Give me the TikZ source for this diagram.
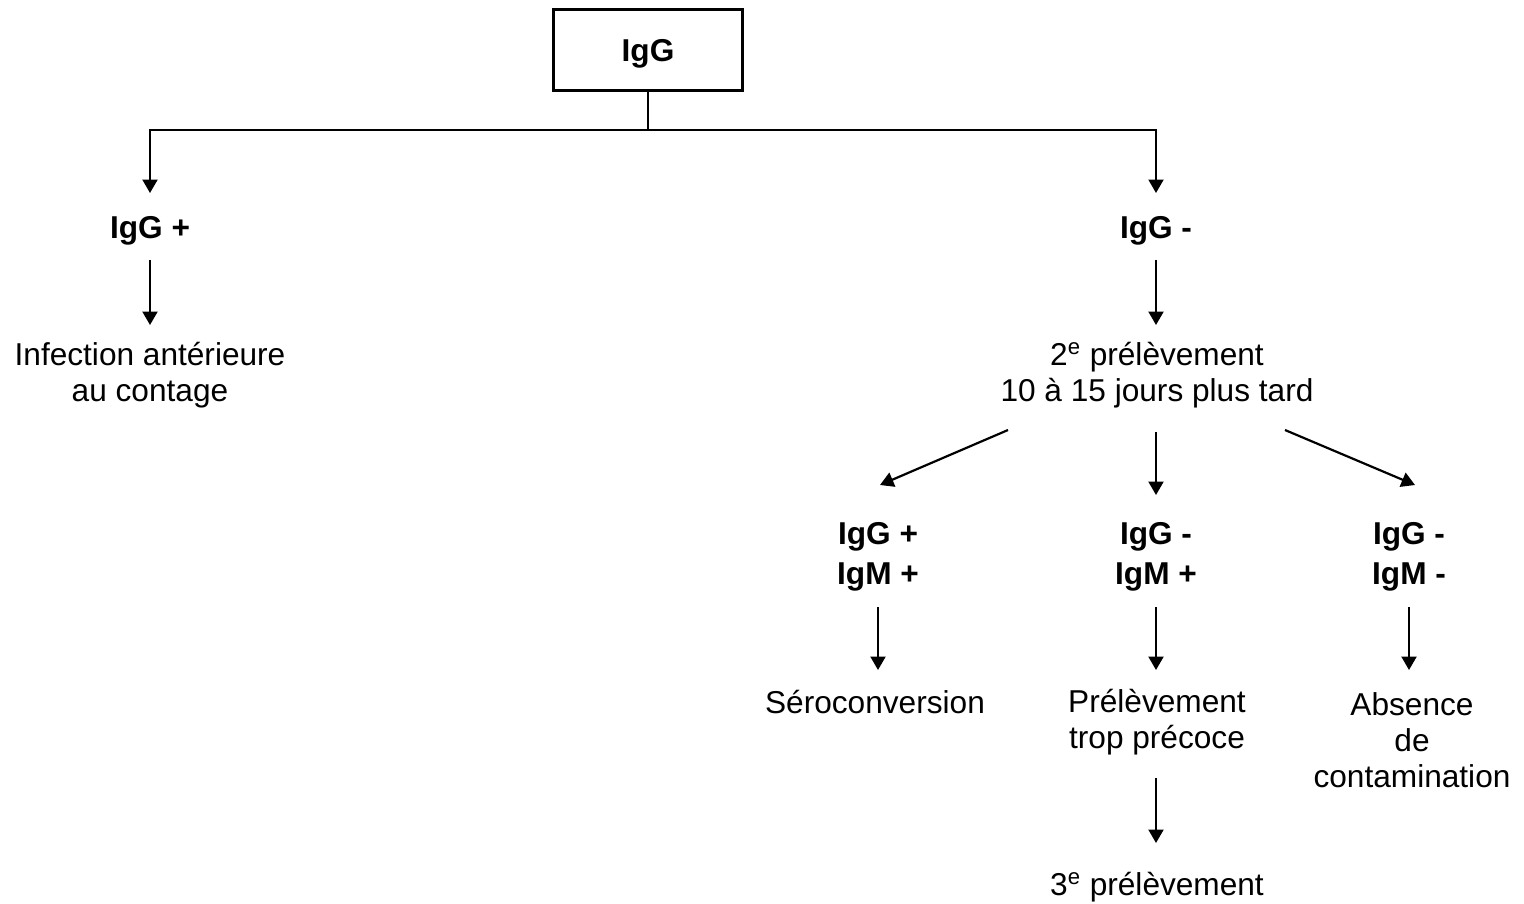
\documentclass[tikz,border=0pt]{standalone}
\usepackage{fontspec}
\setmainfont{Liberation Sans}
\usetikzlibrary{arrows.meta,calc}
\begin{document}
\begin{tikzpicture}[x=0.02cm,y=-0.02cm,
    lbl/.style={font=\fontsize{18}{20.5}\selectfont, align=center, inner sep=0pt},
    res/.style={font=\fontsize{18}{22.7}\selectfont\bfseries, align=center, inner sep=0pt},
    arr/.style={-{Triangle[width=0.3cm,length=0.27cm]}, line width=1.25pt}]
  \useasboundingbox (0,0) rectangle (1524,903);
  \node[draw, line width=1.4pt, minimum width=3.78cm, minimum height=1.62cm, text depth=0pt,
        font=\fontsize{18}{20.5}\selectfont\bfseries] (top) at (648,50) {IgG};
  \coordinate (split) at (648,130);
  \node[res] (igp) at (150,231) {IgG +};
  \node[res] (igm) at (1156,231) {IgG -};
  \node[lbl] (inf) at (150,375) {Infection antérieure\\au contage};
  \node[lbl] (deux) at (1157,375) {2\textsuperscript{e} prélèvement\\10 à 15 jours plus tard};
  \node[res] (gm1) at (878,557) {IgG +\\IgM +};
  \node[res] (gm2) at (1156,557) {IgG -\\IgM +};
  \node[res] (gm3) at (1409,557) {IgG -\\IgM -};
  \node[lbl] (sero) at (875,702) {Séroconversion};
  \node[lbl] (prel) at (1157,722) {Prélèvement\\trop précoce};
  \node[lbl] (abs) at (1412,740) {Absence\\de\\contamination};
  \node[lbl] (trois) at (1157,887) {3\textsuperscript{e} prélèvement};
  % first split
  \draw[line width=1.25pt] (top) -- (split);
  \draw[arr, shorten >=0.76cm] (split) -| (igp.center);
  \draw[arr, shorten >=0.76cm] (split) -| (igm.center);
  \draw[arr, shorten <=0.58cm, shorten >=1.0cm] (igp.center) -- (igp.center |- inf.center);
  \draw[arr, shorten <=0.58cm, shorten >=1.0cm] (igm.center) -- (igm.center |- deux.center);
  % second sample
  \draw[arr] ($(deux.center)+(-149,55)$) -- ($(gm1.center)+(2,-72)$);
  \draw[arr, shorten <=1.14cm, shorten >=1.24cm] (deux.center -| gm2.center) -- (gm2.center);
  \draw[arr] ($(deux.center)+(128,55)$) -- ($(gm3.center)+(6,-72)$);
  % results
  \draw[arr, shorten <=1.0cm, shorten >=0.64cm] (gm1.center) -- (gm1.center |- sero.center);
  \draw[arr, shorten <=1.0cm, shorten >=1.04cm] (gm2.center) -- (gm2.center |- prel.center);
  \draw[arr, shorten <=1.0cm, shorten >=1.4cm] (gm3.center) -- (gm3.center |- abs.center);
  \draw[arr, shorten <=1.12cm, shorten >=0.88cm] (prel.center -| gm2.center) -- (gm2.center |- trois.center);
\end{tikzpicture}
\end{document}
